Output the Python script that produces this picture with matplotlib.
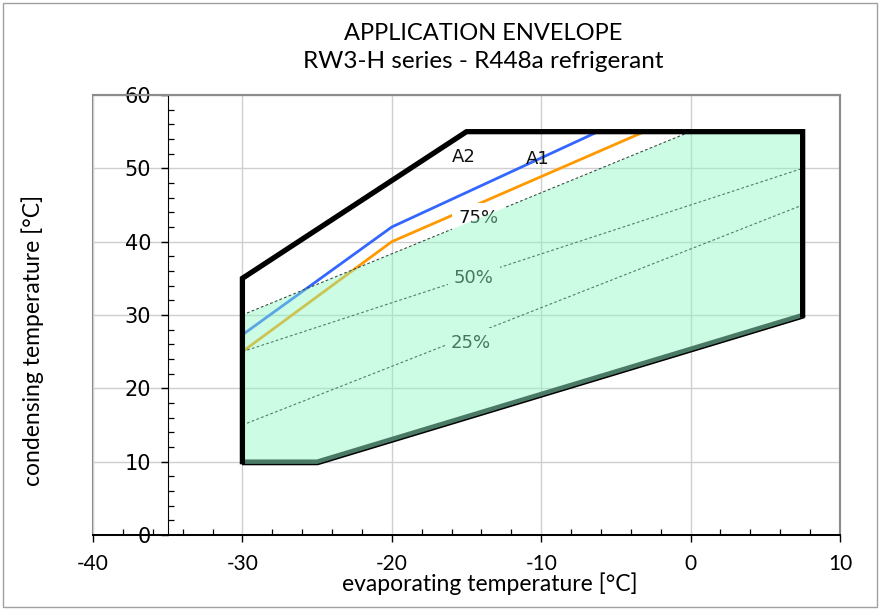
"""Application envelope RW3-H / R448a: envolvente + lineas A1/A2 + lineas de % dotted."""
import matplotlib
matplotlib.use("Agg")
import matplotlib.pyplot as plt
import matplotlib.patheffects as pe
from matplotlib.patches import Polygon, Rectangle
from matplotlib.ticker import MultipleLocator

# envolvente exterior (negra gruesa)
env_x = [-30, -30, -15, 7.5, 7.5]
env_y = [10, 35, 55, 55, 30]
# borde inferior
low_x = [-30, -25, 7.5]
low_y = [10, 10, 30]
# zona verde
zona_x = [-30, -25, 7.5, 7.5, 0, -30]
zona_y = [10, 10, 30, 55, 55, 30]
# lineas A2 (azul) y A1 (naranja)
a2_x = [-30, -20, -6.2]
a2_y = [27.3, 42, 55]
a1_x = [-30, -20, -3.1]
a1_y = [25, 40, 55]
# lineas de carga parcial
pct_labels = ["75%", "50%", "25%"]
pct_x0 = [-30, -30, -30]
pct_y0 = [30, 25, 15]
pct_x1 = [0, 7.5, 7.5]
pct_y1 = [55, 50, 45]
pct_lx = [-14.2, -14.5, -14.7]
pct_ly = [43.2, 35.0, 26.2]
# etiquetas de las curvas
curva_txt = ["A2", "A1"]
curva_tx = [-15.2, -10.2]
curva_ty = [51.6, 51.3]

XT = [-40, -30, -20, -10, 0, 10]
YT = [0, 10, 20, 30, 40, 50, 60]

FONT = "Lato"
plt.rcParams["axes.unicode_minus"] = False


def main():
    fig = plt.figure(figsize=(8.8, 6.1), dpi=100)
    ax = fig.add_axes([93 / 880, 75 / 610, 747 / 880, 440 / 610])
    ax.set_xlim(-40, 10)
    ax.set_ylim(0, 60)

    ax.set_xticks(XT)
    ax.set_yticks(YT)
    ax.xaxis.set_minor_locator(MultipleLocator(2))
    ax.yaxis.set_minor_locator(MultipleLocator(2))
    ax.tick_params(which="major", direction="out", length=5, width=1, color="black",
                   labelsize=15)
    ax.tick_params(axis="x", which="major", pad=9)
    ax.tick_params(axis="y", which="major", pad=7)
    ax.tick_params(which="minor", direction="in", length=4, width=0.9, color="black")
    for lab in ax.get_xticklabels() + ax.get_yticklabels():
        lab.set_fontfamily(FONT)
    ax.grid(True, which="major", color="#cfcfcf", linewidth=1, zorder=0)
    ax.set_axisbelow(True)

    ax.spines["left"].set_position(("data", -35))
    ax.spines["left"].set_color("black")
    ax.spines["bottom"].set_color("black")
    ax.spines["bottom"].set_linewidth(1.4)
    for s in ["top", "right"]:
        ax.spines[s].set_color("#8c8c8c")
        ax.spines[s].set_linewidth(1.5)
    ax.add_patch(Rectangle((0, 0), 1, 1, transform=ax.transAxes, fill=False,
                           edgecolor="#8c8c8c", linewidth=1.5, clip_on=False, zorder=0.5))

    # curvas (quedan debajo del relleno translucido)
    ax.plot(a2_x, a2_y, color="#3366ff", linewidth=2, zorder=2)
    ax.plot(a1_x, a1_y, color="#ff9900", linewidth=2, zorder=2)
    for i in range(3):
        ax.plot([pct_x0[i], pct_x1[i]], [pct_y0[i], pct_y1[i]], color="#222222",
                linewidth=0.8, linestyle=(0, (2.5, 2)), zorder=2.5)
        ax.text(pct_lx[i], pct_ly[i], pct_labels[i], fontsize=13, family="DejaVu Sans",
                ha="center", va="center", color="#111111", zorder=3,
                bbox=dict(boxstyle="square,pad=0.35", facecolor="white", edgecolor="none"))
    for t, x, y in zip(curva_txt, curva_tx, curva_ty):
        ax.text(x, y, t, fontsize=13, family="DejaVu Sans", ha="center", va="center",
                color="#111111", zorder=3)

    zona = Polygon(list(zip(zona_x, zona_y)), closed=True,
                   facecolor=(140 / 255, 249 / 255, 194 / 255),
                   edgecolor="none", alpha=0.44, zorder=4)
    ax.add_patch(zona)

    # borde inferior: verde oscuro con linea negra fina por debajo
    ax.plot(low_x, low_y, color="#4a7a65", linewidth=3.2, solid_joinstyle="miter", zorder=4.5,
            path_effects=[pe.Stroke(linewidth=1.6, foreground="black", offset=(0.5, -1.8)),
                          pe.Normal()])

    ax.plot(env_x, env_y, color="black", linewidth=3.8, solid_joinstyle="miter",
            solid_capstyle="projecting", zorder=5)

    fig.text(483 / 880, 1 - 40 / 610, "APPLICATION ENVELOPE", fontsize=17, family=FONT,
             ha="center", va="baseline")
    fig.text(483 / 880, 1 - 68 / 610, "RW3-H series - R448a refrigerant", fontsize=17.5,
             family=FONT, ha="center", va="baseline")
    fig.text(490 / 880, 1 - 584 / 610, "evaporating temperature [°C]", fontsize=16.5,
             family=FONT, ha="center", va="center")
    fig.text(33 / 880, 1 - 340 / 610, "condensing temperature [°C]", fontsize=16.5,
             family=FONT, ha="center", va="center", rotation=90)

    fig.patches.append(Rectangle((3 / 880, 3 / 610), 874 / 880, 604 / 610,
                                 transform=fig.transFigure, fill=False,
                                 edgecolor="#a0a0a0", linewidth=1))

    fig.savefig("out.png", dpi=100)
    plt.close(fig)


if __name__ == "__main__":
    main()
